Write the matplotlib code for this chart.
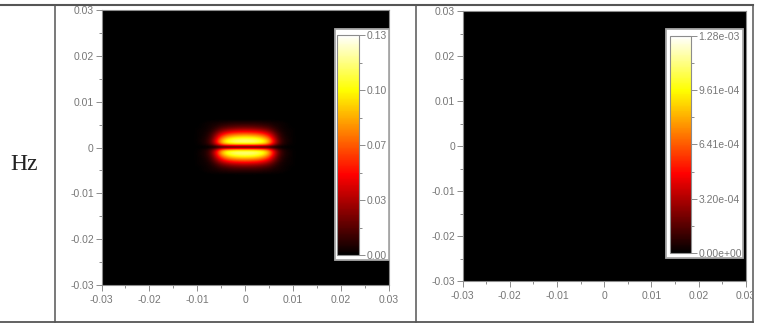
#! usr/bin/env python
import numpy as np
import matplotlib
matplotlib.use('Agg')
import matplotlib.pyplot as plt
from matplotlib.colors import LinearSegmentedColormap
from matplotlib.lines import Line2D
from matplotlib.patches import Rectangle
from matplotlib.transforms import Bbox

W, H = 757, 323
plt.rcParams['font.family'] = ['Liberation Sans', 'DejaVu Sans']

row_label = 'Hz'
axis_ticks = [-0.03, -0.02, -0.01, 0, 0.01, 0.02, 0.03]
axis_labels = ['-0.03', '-0.02', '-0.01', '0', '0.01', '0.02', '0.03']
axis_minor = [-0.025, -0.015, -0.005, 0.005, 0.015, 0.025]

left_max = 0.13
left_cb_ticks = [0, 0.0325, 0.065, 0.0975, 0.13]
left_cb_minor = [0.01625, 0.04875, 0.08125, 0.11375]
left_cb_labels = ['0.00', '0.03', '0.07', '0.10', '0.13']

right_max = 1.28e-3
right_cb_ticks = [0, 3.2e-4, 6.41e-4, 9.61e-4, 1.28e-3]
right_cb_minor = [1.6e-4, 4.8e-4, 8.01e-4, 1.12e-3]
right_cb_labels = ['0.00e+00', '3.20e-04', '6.41e-04', '9.61e-04', '1.28e-03']

# |Hz| in the first quadrant, rows are |y| = 0 .. 0.006, columns are |x| = 0 .. 0.012
hz_x_step = 0.001
hz_y_step = 0.0005
hz_quadrant = np.array([
    [.000, .000, .000, .000, .000, .000, .000, .000, .000, .000, .000, .000, .000],
    [.075, .075, .075, .072, .068, .055, .030, .012, .005, .002, .001, .000, .000],
    [.112, .112, .110, .106, .098, .078, .045, .018, .007, .003, .001, .000, .000],
    [.112, .111, .109, .104, .095, .076, .044, .018, .007, .003, .001, .000, .000],
    [.098, .097, .095, .090, .080, .064, .037, .015, .006, .003, .001, .000, .000],
    [.080, .079, .077, .072, .064, .050, .029, .013, .005, .002, .001, .000, .000],
    [.060, .059, .057, .054, .047, .037, .022, .010, .004, .002, .001, .000, .000],
    [.042, .041, .040, .037, .032, .025, .015, .007, .003, .002, .001, .000, .000],
    [.027, .026, .025, .023, .020, .016, .010, .005, .003, .001, .001, .000, .000],
    [.016, .016, .015, .014, .012, .010, .006, .004, .002, .001, .000, .000, .000],
    [.009, .009, .009, .008, .007, .006, .004, .003, .002, .001, .000, .000, .000],
    [.004, .004, .004, .004, .003, .003, .002, .002, .001, .000, .000, .000, .000],
    [.000, .000, .000, .000, .000, .000, .000, .000, .000, .000, .000, .000, .000],
])

# the second field stays at zero over the whole window
hz_right = np.array([[0., 0.], [0., 0.]])

tick_col = '#777777'
frame_col = '#8c8c8c'
rule_col = '#555555'
font_px = 7.5

# black, red, yellow, white ramp
field_cmap = LinearSegmentedColormap.from_list(
    'field', [(0, 'black'), (0.365, 'red'), (0.75, 'yellow'), (1, 'white')])


def px_axes(fig, x0, y0, x1, y1):
    return fig.add_axes([x0 / W, 1 - y1 / H, (x1 - x0) / W, (y1 - y0) / H])


def style_field(ax):
    ax.set_xlim(-0.03, 0.03)
    ax.set_ylim(-0.03, 0.03)
    ax.set_aspect('auto')
    ax.set_facecolor('black')
    ax.set_xticks(axis_ticks)
    ax.set_xticklabels(axis_labels)
    ax.set_yticks(axis_ticks)
    ax.set_yticklabels(axis_labels)
    ax.set_xticks(axis_minor, minor=True)
    ax.set_yticks(axis_minor, minor=True)
    ax.tick_params(which='major', length=4, width=0.7, color=frame_col,
                   labelcolor=tick_col, labelsize=font_px)
    ax.tick_params(which='minor', length=2, width=0.7, color=frame_col)
    ax.tick_params(axis='x', which='major', pad=3)
    ax.tick_params(axis='y', which='major', pad=1.5)
    for s in ax.spines.values():
        s.set_color(frame_col)
        s.set_linewidth(0.8)


def add_colorbar(fig, im, box, bar, ticks, minor, labels):
    # white backing panel goes in figure space, the bar sits on top of it
    x0, y0, x1, y1 = box
    fig.add_artist(Rectangle((x0 / W, 1 - y1 / H), (x1 - x0) / W, (y1 - y0) / H,
                             transform=fig.transFigure, facecolor='white',
                             edgecolor='#a8a8a8', linewidth=1.3, zorder=5))
    cax = px_axes(fig, *bar)
    cax.set_zorder(6)
    cb = fig.colorbar(im, cax=cax)
    cb.set_ticks(ticks)
    cb.set_ticklabels(labels)
    cb.ax.set_yticks(minor, minor=True)
    cb.ax.tick_params(which='major', length=4, width=0.7, color=frame_col,
                      labelcolor=tick_col, labelsize=font_px, pad=1.5)
    cb.ax.tick_params(which='minor', length=2, width=0.7, color=frame_col)
    cb.outline.set_edgecolor(frame_col)
    cb.outline.set_linewidth(0.8)
    return cb


fig = plt.figure(figsize=(W / 100, H / 100), dpi=100, facecolor='white')

# left panel: mirror the quadrant table into the full field
upper = np.hstack([hz_quadrant[:, :0:-1], hz_quadrant])
hz_left = np.vstack([upper[:0:-1], upper])
half_x = 0.012 + hz_x_step / 2
half_y = 0.006 + hz_y_step / 2

axL = px_axes(fig, 101.5, 10, 389, 285)
imL = axL.imshow(hz_left, cmap=field_cmap, vmin=0, vmax=left_max, origin='lower',
                 extent=[-half_x, half_x, -half_y, half_y],
                 interpolation='bicubic', interpolation_stage='data')
style_field(axL)
add_colorbar(fig, imL, (335, 29, 389, 260), (337, 35, 359, 255),
             left_cb_ticks, left_cb_minor, left_cb_labels)

# right panel
axR = px_axes(fig, 462.7, 11, 745.7, 281)
imR = axR.imshow(hz_right, cmap=field_cmap, vmin=0, vmax=right_max, origin='lower',
                 extent=[-0.03, 0.03, -0.03, 0.03])
style_field(axR)
add_colorbar(fig, imR, (666, 29, 743, 258), (669.5, 36, 691, 253),
             right_cb_ticks, right_cb_minor, right_cb_labels)

# last x label runs into the table border and gets cut there
fig.canvas.draw()
clip = Bbox.from_extents(0, 0, 752, H)
for lab in axR.get_xticklabels():
    lab.set_clip_box(clip)
    lab.set_clip_on(True)

fig.text(24 / W, 1 - 164.5 / H, row_label, family='Liberation Serif', fontsize=17,
         color='#222222', ha='center', va='center')

# table rules
rules = [
    ((0, 753), (5, 5), 1.5),
    ((0, 753), (321.5, 321.5), 1.3),
    ((54.5, 54.5), (5, 322), 1.1),
    ((416, 416), (5, 322), 1.1),
    ((753, 753), (5, 322), 1.1),
]
for xs, ys, lw in rules:
    fig.add_artist(Line2D([x / W for x in xs], [1 - y / H for y in ys],
                          color=rule_col, linewidth=lw, zorder=10))

fig.savefig('out.png', dpi=100)
